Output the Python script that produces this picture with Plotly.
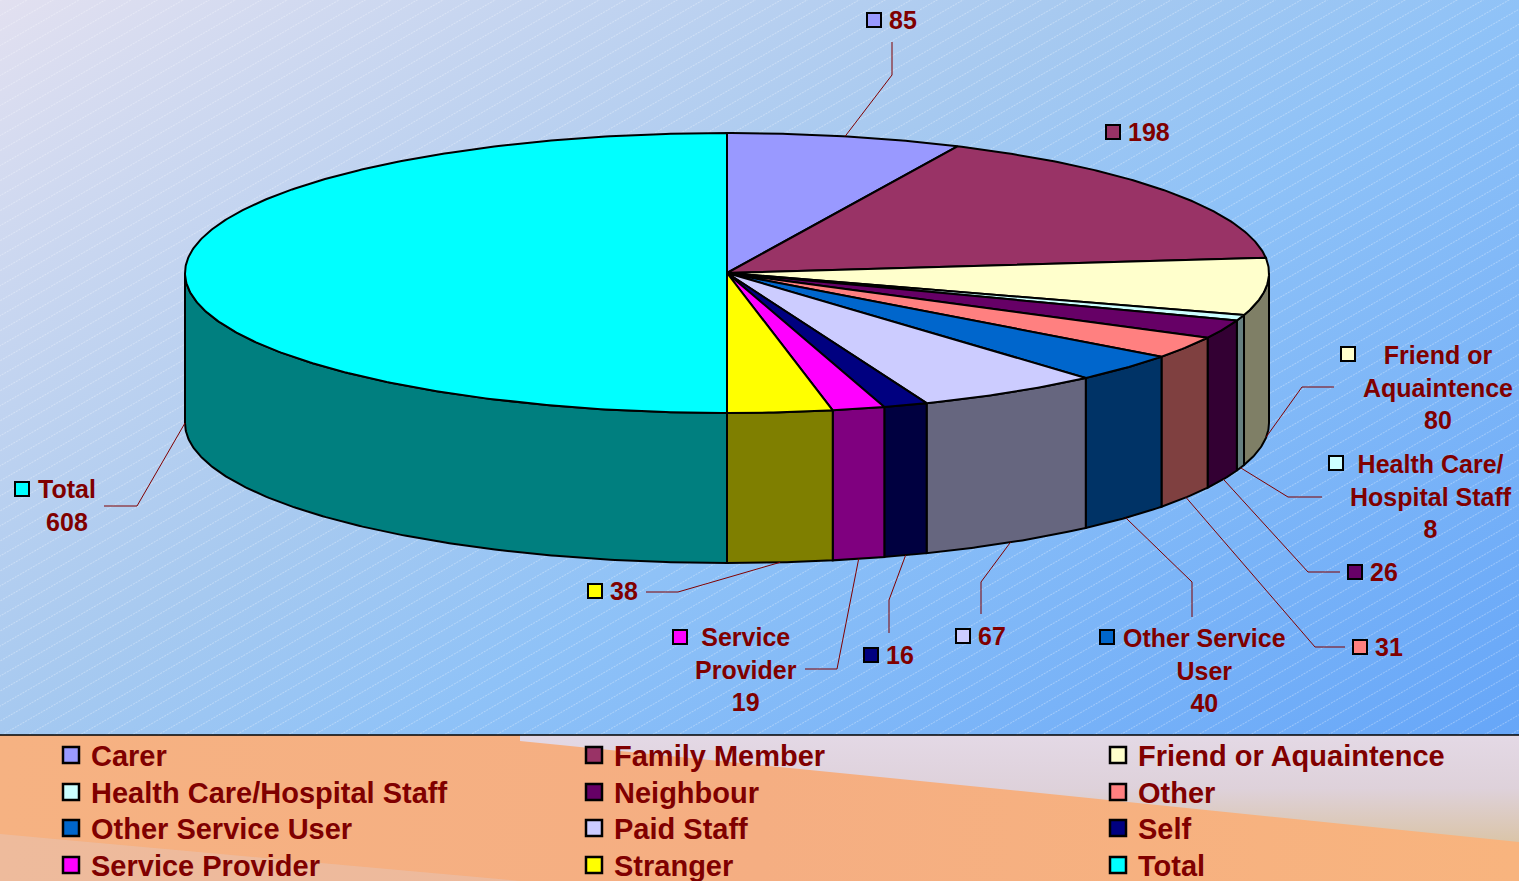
import math
import base64
import plotly.graph_objects as go

# ---------------- data ----------------
categories = ["Carer", "Family Member", "Friend or Aquaintence", "Health Care/Hospital Staff",
              "Neighbour", "Other", "Other Service User", "Paid Staff", "Self",
              "Service Provider", "Stranger", "Total"]
values = [85, 198, 80, 8, 26, 31, 40, 67, 16, 19, 38, 608]

# ---------------- styles ----------------
slice_colors = ["#9999FF", "#993366", "#FFFFCC", "#CCFFFF", "#660066", "#FF8080",
                "#0066CC", "#CCCCFF", "#000080", "#FF00FF", "#FFFF00", "#00FFFF"]
label_name_lines = {
    "Friend or Aquaintence": "Friend or<br>Aquaintence",
    "Health Care/Hospital Staff": "Health Care/<br>Hospital Staff",
    "Other Service User": "Other Service<br>User",
    "Service Provider": "Service<br>Provider",
    "Total": "Total",
}
TEXT_COLOR = "#800000"
FONT = "Liberation Sans, Arial, sans-serif"

W, H = 1519, 881
CX, CY, RX, RY, DEPTH = 727, 273, 542, 140, 150
LEGEND_TOP = 735
LEGEND_COL_X = [51, 574, 1098]
LEGEND_ROW_Y = [755, 792, 828, 865]
LEGEND_FONT = 29

# label placement (square centre, text anchor, leader elbow points)
label_layout = {
    "Carer": dict(sq=(874, 20), txt=(887, 20), anchor="left", leader=[(892, 75), (892, 42)]),
    "Family Member": dict(sq=(1113, 132), txt=(1126, 132), anchor="left", leader=None),
    "Friend or Aquaintence": dict(sq=(1348, 354), txt=(1438, 387), anchor="center", leader=[(1302, 387), (1334, 387)]),
    "Health Care/Hospital Staff": dict(sq=(1336, 463), txt=(1431, 496), anchor="center", leader=[(1288, 497), (1322, 497)]),
    "Neighbour": dict(sq=(1355, 572), txt=(1368, 572), anchor="left", leader=[(1308, 572), (1340, 572)]),
    "Other": dict(sq=(1360, 647), txt=(1373, 647), anchor="left", leader=[(1315, 647), (1345, 647)]),
    "Other Service User": dict(sq=(1107, 637), txt=(1204, 670), anchor="center", leader=[(1192, 582), (1192, 617)]),
    "Paid Staff": dict(sq=(963, 636), txt=(976, 636), anchor="left", leader=[(981, 582), (981, 614)]),
    "Self": dict(sq=(871, 655), txt=(884, 655), anchor="left", leader=[(889, 600), (889, 633)]),
    "Service Provider": dict(sq=(680, 637), txt=(746, 669), anchor="center", leader=[(837, 669), (805, 669)]),
    "Stranger": dict(sq=(595, 591), txt=(608, 591), anchor="left", leader=[(678, 592), (646, 592)]),
    "Total": dict(sq=(22, 489), txt=(67, 505), anchor="center", leader=[(137, 506), (104, 506)]),
}


def darker(hexcol):
    h = hexcol.lstrip("#")
    r, g, b = (int(h[i:i + 2], 16) // 2 for i in (0, 2, 4))
    return f"#{r:02X}{g:02X}{b:02X}"


def ellipse_pt(theta_deg, drop=0.0):
    t = math.radians(theta_deg)
    return CX + RX * math.sin(t), CY - RY * math.cos(t) + drop


def arc(a, b, drop=0.0):
    n = max(2, int(abs(b - a) / 0.5) + 2)
    return [ellipse_pt(a + (b - a) * k / (n - 1), drop) for k in range(n)]


total = sum(values)
angles = []
cum = 0
for v in values:
    a0 = cum / total * 360.0
    cum += v
    a1 = cum / total * 360.0
    angles.append((a0, a1))

fig = go.Figure()

# side walls (front half only: 90..270 degrees)
for cat, col, (a0, a1) in zip(categories, slice_colors, angles):
    lo, hi = max(a0, 90.0), min(a1, 270.0)
    if lo >= hi:
        continue
    pts = arc(lo, hi) + arc(hi, lo, DEPTH)
    pts.append(pts[0])
    fig.add_trace(go.Scatter(
        x=[p[0] for p in pts], y=[p[1] for p in pts], mode="lines",
        fill="toself", fillcolor=darker(col), line=dict(color="black", width=2),
        showlegend=False, hoverinfo="skip"))

# top faces
for cat, v, col, (a0, a1) in zip(categories, values, slice_colors, angles):
    pts = [(CX, CY)] + arc(a0, a1) + [(CX, CY)]
    fig.add_trace(go.Scatter(
        x=[p[0] for p in pts], y=[p[1] for p in pts], mode="lines",
        fill="toself", fillcolor=col, line=dict(color="black", width=2),
        showlegend=False, name=cat, hoveron="fills",
        hovertemplate=f"{cat}: {v}<extra></extra>"))

# leader lines
lx, ly = [], []
for cat, (a0, a1) in zip(categories, angles):
    lay = label_layout[cat]
    if not lay["leader"]:
        continue
    mid = (a0 + a1) / 2
    front = 90 <= mid <= 270
    sx, sy = ellipse_pt(mid, DEPTH if front else 0)
    pts = [(sx, sy)] + lay["leader"]
    lx += [p[0] for p in pts] + [None]
    ly += [p[1] for p in pts] + [None]
fig.add_trace(go.Scatter(x=lx, y=ly, mode="lines", line=dict(color=TEXT_COLOR, width=1),
                         showlegend=False, hoverinfo="skip"))

# label squares
fig.add_trace(go.Scatter(
    x=[label_layout[c]["sq"][0] for c in categories],
    y=[label_layout[c]["sq"][1] for c in categories],
    mode="markers",
    marker=dict(symbol="square", size=14, color=slice_colors, line=dict(color="black", width=2)),
    showlegend=False, hoverinfo="skip"))

# label texts
annotations = []
for cat, v in zip(categories, values):
    lay = label_layout[cat]
    txt = f"{label_name_lines[cat]}<br>{v}" if cat in label_name_lines else f"{v}"
    annotations.append(dict(
        x=lay["txt"][0], y=lay["txt"][1], xref="x", yref="y", text=txt, showarrow=False,
        xanchor=lay["anchor"], yanchor="middle", align="center",
        font=dict(family=FONT, size=25, color=TEXT_COLOR, weight="bold")))

# legend: one entry per legend box so the 3-column grid lands exactly
legend_layouts = {}
item_h = LEGEND_FONT * 1.3 + 3
for i, (cat, col) in enumerate(zip(categories, slice_colors)):
    key = "legend" if i == 0 else f"legend{i + 1}"
    fig.add_trace(go.Scatter(
        x=[None], y=[None], mode="markers", name=cat,
        marker=dict(symbol="square", size=16, color=col, line=dict(color="black", width=2.5)),
        legend=key, showlegend=True))
    col_i, row_i = i % 3, i // 3
    top = LEGEND_ROW_Y[row_i] - (5 + item_h / 2)
    legend_layouts[key] = dict(
        orientation="v", yanchor="top", xanchor="left",
        x=LEGEND_COL_X[col_i] / W, y=1 - top / H,
        bgcolor="rgba(0,0,0,0)", borderwidth=0,
        font=dict(family=FONT, size=LEGEND_FONT, color=TEXT_COLOR, weight="bold"))

# background (gradient picture)
svg = f"""<svg xmlns='http://www.w3.org/2000/svg' width='{W}' height='{H}' viewBox='0 0 {W} {H}' preserveAspectRatio='none'>
<defs>
<linearGradient id='sky' gradientUnits='userSpaceOnUse' x1='0' y1='0' x2='797' y2='1211'>
<stop offset='0' stop-color='#E2E0F0'/><stop offset='0.42' stop-color='#A6C9F0'/>
<stop offset='0.58' stop-color='#8FC2F7'/><stop offset='1' stop-color='#66A6F8'/>
</linearGradient>
<pattern id='hatch' width='3' height='13' patternUnits='userSpaceOnUse' patternTransform='rotate(-30)'>
<rect x='0' y='0' width='2' height='1' fill='#FFFFFF' fill-opacity='0.3'/>
</pattern>
<linearGradient id='peach' x1='0' y1='0' x2='1' y2='0'>
<stop offset='0' stop-color='#F6B282'/><stop offset='0.5' stop-color='#F5AE82'/><stop offset='1' stop-color='#F8B47E'/>
</linearGradient>
<linearGradient id='lav' gradientUnits='userSpaceOnUse' x1='0' y1='735' x2='0' y2='842'>
<stop offset='0' stop-color='#E2DCEE'/><stop offset='0.5' stop-color='#DCD4E2'/><stop offset='1' stop-color='#D8C6AC'/>
</linearGradient>
</defs>
<rect x='0' y='0' width='{W}' height='{LEGEND_TOP}' fill='url(#sky)'/>
<rect x='0' y='0' width='{W}' height='{LEGEND_TOP}' fill='url(#hatch)'/>
<rect x='0' y='{LEGEND_TOP}' width='{W}' height='{H - LEGEND_TOP}' fill='url(#peach)'/>
<path d='M520,735 L1519,735 L1519,842 L1040,793 L520,741 Z' fill='url(#lav)' fill-opacity='0.92'/>
<path d='M0,834 L520,881 L0,881 Z' fill='#DCD0DA' fill-opacity='0.3'/>
<line x1='0' y1='{LEGEND_TOP}' x2='{W}' y2='{LEGEND_TOP}' stroke='#000000' stroke-width='1.5'/>
</svg>"""
bg_uri = "data:image/svg+xml;base64," + base64.b64encode(svg.encode("utf-8")).decode("ascii")

fig.update_layout(
    width=W, height=H,
    margin=dict(l=0, r=0, t=0, b=0, pad=0, autoexpand=False),
    paper_bgcolor="#A6C9F0", plot_bgcolor="rgba(0,0,0,0)",
    xaxis=dict(range=[0, W], visible=False, fixedrange=True),
    yaxis=dict(range=[H, 0], visible=False, fixedrange=True),
    annotations=annotations,
    images=[dict(source=bg_uri, xref="paper", yref="paper", x=0, y=1, sizex=1, sizey=1,
                 xanchor="left", yanchor="top", sizing="stretch", layer="below")],
    hovermode="closest",
    **legend_layouts,
)

fig.write_html("out.html", config={"displayModeBar": False},
               post_script="document.body.style.margin='0';document.body.style.overflow='hidden';")
